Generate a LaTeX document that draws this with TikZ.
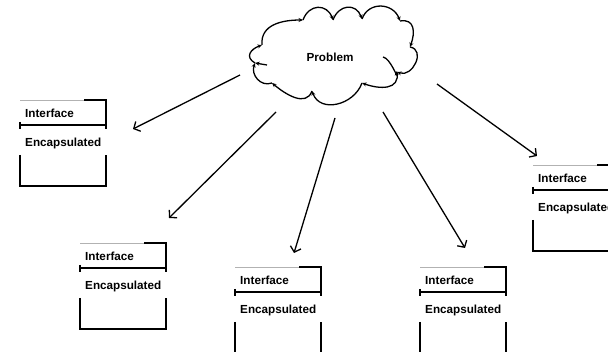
\documentclass[tikz,border=0pt]{standalone}
\usepackage{fontspec}
\setmainfont{Liberation Sans}
\usetikzlibrary{arrows.meta}
\tikzset{
  lbl/.style={font=\bfseries\fontsize{11.7}{14}\selectfont, anchor=west, inner sep=0pt},
  edge/.style={line width=1.3pt, black},
  faint/.style={line width=0.5pt, gray!60},
  arr/.style={line width=1.3pt, -{Straight Barb[length=5pt,width=11pt]}},
  bump/.style={line width=1.3pt, -{Stealth[length=4.5pt,width=4pt]}},
}
\newcommand\ibox[3]{%
  \begin{scope}[shift={(#2,#3)}]
   \draw[faint] (0,0) -- (64,0);
   \draw[edge] (64,0) -- (86,0) -- (86,29);
   \draw[edge] (0,25) -- (86,25);
   \draw[edge] (0,22) -- (0,29);
   \draw[edge] (0,55) -- (0,86) -- (86,86) -- (86,55);
   \node[lbl] (#1-i) at (5,13) {Interface};
   \node[lbl] (#1-e) at (5,43) {Encapsulated};
  \end{scope}}
\begin{document}
\begin{tikzpicture}[x=1pt,y=-1pt]
\useasboundingbox (0,0) rectangle (608,352);
\begin{scope}
\clip (0,0) rectangle (608,352);
% cloud
\node[lbl, anchor=center] (cloud) at (330,57) {Problem};
\coordinate (j1) at (262,45);
\coordinate (j2) at (303,20);
\coordinate (j3) at (333,20);
\coordinate (j4) at (362,19);
\coordinate (j5) at (400,21);
\coordinate (j6) at (410,47);
\coordinate (j7) at (397,72);
\coordinate (j8) at (362,83);
\coordinate (j9) at (312,91);
\coordinate (j10) at (272,83);
\coordinate (j11) at (255,63);
\draw[bump] (j1) to[out=95,in=180,looseness=1.1] (j2);
\draw[bump] (j2) to[out=70,in=110,looseness=1.5] (j3);
\draw[bump] (j3) to[out=70,in=110,looseness=1.5] (j4);
\draw[bump] (j4) to[out=70,in=110,looseness=1.3] (j5);
\draw[bump] (j5) to[out=10,in=70,looseness=1.4] (j6);
\draw[bump] (j6) to[out=-10,in=-20,looseness=1.5] (j7);
\draw[bump] (j7) to[out=-80,in=-20,looseness=1.3] (j8);
\draw[bump] (j8) to[out=-110,in=-70,looseness=1.2] (j9);
\draw[bump] (j9) to[out=-110,in=-40,looseness=1.1] (j10);
\draw[bump] (j10) to[out=-160,in=-110,looseness=1.2] (j11);
\draw[bump] (j11) to[out=150,in=-160,looseness=1.6] (j1);
\coordinate (c1) at (267,65);
\coordinate (c2) at (383,57);
\draw[bump] (c1) -- (j11);
\draw[bump] (c2) to[out=-10,in=-80] (396,71);
% boxes
\ibox{b1}{20}{100}
\ibox{b2}{80}{243}
\ibox{b3}{235}{267}
\ibox{b4}{420}{267}
\ibox{b5}{533}{165}
% arrows
\coordinate (s1) at (240,75);  \coordinate (t1) at (133,129);
\coordinate (s2) at (276,112); \coordinate (t2) at (169,218);
\coordinate (s3) at (335,118); \coordinate (t3) at (294,253);
\coordinate (s4) at (383,112); \coordinate (t4) at (465,248);
\coordinate (s5) at (437,84);  \coordinate (t5) at (537,156);
\draw[arr] (s1) -- (t1);
\draw[arr] (s2) -- (t2);
\draw[arr] (s3) -- (t3);
\draw[arr] (s4) -- (t4);
\draw[arr] (s5) -- (t5);
\end{scope}
\end{tikzpicture}
\end{document}
